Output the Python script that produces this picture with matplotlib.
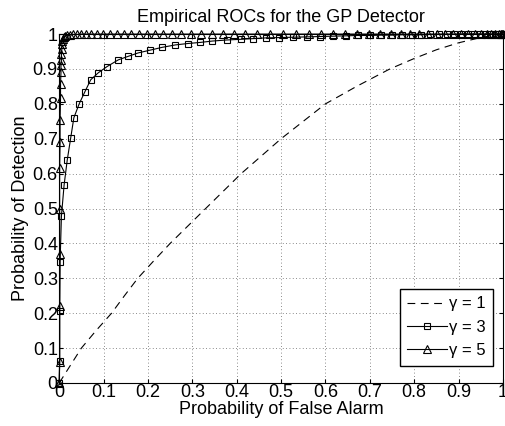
import matplotlib
matplotlib.use('Agg')
import matplotlib.pyplot as plt

plt.rcParams['font.family'] = ['Liberation Sans', 'DejaVu Sans']
plt.rcParams['font.size'] = 13

# gamma = 1 (dashed, no markers)
pfa_g1 = [0, 0.025, 0.05, 0.083, 0.118, 0.147, 0.177, 0.213, 0.25, 0.29, 0.33,
          0.37, 0.41, 0.455, 0.5, 0.55, 0.6, 0.67, 0.745, 0.8, 0.85, 0.9,
          0.95, 0.98, 1.0]
pd_g1 = [0, 0.05, 0.1, 0.15, 0.2, 0.25, 0.3, 0.35, 0.4, 0.45, 0.5, 0.55, 0.6,
         0.65, 0.7, 0.75, 0.8, 0.85, 0.9, 0.93, 0.955, 0.975, 0.99, 0.997, 1.0]

# gamma = 3 (squares)
pfa_g3 = [0, 0.001, 0.001, 0.002, 0.005, 0.011, 0.018, 0.026, 0.033, 0.045,
          0.058, 0.071, 0.088, 0.108, 0.133, 0.155, 0.178, 0.205, 0.232, 0.262,
          0.29, 0.317, 0.345, 0.377, 0.409, 0.436, 0.465, 0.496, 0.527, 0.558,
          0.588, 0.617, 0.646, 0.673, 0.7, 0.726, 0.75, 0.773, 0.795, 0.816,
          0.836, 0.855, 0.873, 0.89, 0.906, 0.921, 0.935, 0.948, 0.96, 0.971,
          0.981, 0.989, 0.995, 1.0]
pd_g3 = [0, 0.062, 0.207, 0.347, 0.478, 0.567, 0.638, 0.703, 0.76, 0.8,
         0.835, 0.869, 0.889, 0.907, 0.926, 0.936, 0.946, 0.954, 0.962, 0.969,
         0.973, 0.976, 0.98, 0.983, 0.985, 0.987, 0.989, 0.99, 0.991, 0.992,
         0.993, 0.994, 0.995, 0.996, 0.996, 0.997, 0.997, 0.998, 0.998, 0.998,
         0.999, 0.999, 0.999, 0.999, 1.0, 1.0, 1.0, 1.0, 1.0, 1.0,
         1.0, 1.0, 1.0, 1.0]

# gamma = 5 (triangles)
pfa_g5 = [0, 0.001, 0.001, 0.001, 0.001, 0.001, 0.002, 0.002, 0.003, 0.003,
          0.004, 0.004, 0.005, 0.005, 0.006, 0.006, 0.007, 0.008, 0.010,
          0.013, 0.017, 0.024, 0.031, 0.04, 0.049, 0.06, 0.071, 0.085, 0.098,
          0.114, 0.13, 0.146, 0.161, 0.18, 0.198, 0.216, 0.234, 0.254, 0.274,
          0.297, 0.319, 0.344, 0.369, 0.393, 0.418, 0.445, 0.475, 0.504,
          0.533, 0.562, 0.589, 0.617, 0.644, 0.67, 0.698, 0.723, 0.747, 0.77,
          0.79, 0.81, 0.83, 0.851, 0.869, 0.887, 0.905, 0.921, 0.936, 0.95,
          0.963, 0.974, 0.983, 0.99, 0.995, 0.998, 1.0]
pd_g5 = [0, 0.06, 0.22, 0.37, 0.5, 0.615, 0.69, 0.755, 0.817, 0.857,
         0.89, 0.91, 0.926, 0.943, 0.957, 0.971, 0.98, 0.987, 0.991,
         0.994, 0.996, 0.998, 0.999, 0.999, 1.0, 1.0, 1.0, 1.0, 1.0,
         1.0, 1.0, 1.0, 1.0, 1.0, 1.0, 1.0, 1.0, 1.0, 1.0,
         1.0, 1.0, 1.0, 1.0, 1.0, 1.0, 1.0, 1.0, 1.0,
         1.0, 1.0, 1.0, 1.0, 1.0, 1.0, 1.0, 1.0, 1.0, 1.0,
         1.0, 1.0, 1.0, 1.0, 1.0, 1.0, 1.0, 1.0, 1.0, 1.0,
         1.0, 1.0, 1.0, 1.0, 1.0, 1.0, 1.0]

labels = ['γ = 1', 'γ = 3', 'γ = 5']
ticks = [0, 0.1, 0.2, 0.3, 0.4, 0.5, 0.6, 0.7, 0.8, 0.9, 1]
tick_labels = ['0', '0.1', '0.2', '0.3', '0.4', '0.5', '0.6', '0.7', '0.8', '0.9', '1']

fig = plt.figure(figsize=(5.06, 4.26), dpi=100)
ax = fig.add_axes([0.117, 0.101, 0.877, 0.819])

ax.plot(pfa_g1, pd_g1, 'k--', lw=0.8, dashes=(7, 5), label=labels[0])
ax.plot(pfa_g3, pd_g3, 'k-', lw=0.8, marker='s', ms=5, mfc='none', mew=0.8,
        clip_on=False, label=labels[1])
ax.plot(pfa_g5, pd_g5, 'k-', lw=0.8, marker='^', ms=6, mfc='none', mew=0.8,
        clip_on=False, label=labels[2])

ax.set_xlim(0, 1)
ax.set_ylim(0, 1)
ax.set_xticks(ticks)
ax.set_xticklabels(tick_labels)
ax.set_yticks(ticks)
ax.set_yticklabels(tick_labels)
ax.tick_params(direction='in', top=True, right=True, length=3, pad=1,
               labelsize=13)
ax.grid(True, color='0.4', linestyle=(0, (1, 3)), linewidth=0.6)
for s in ax.spines.values():
    s.set_linewidth(0.8)

ax.set_title('Empirical ROCs for the GP Detector', fontsize=13, pad=9)
ax.set_xlabel('Probability of False Alarm', fontsize=13, labelpad=0)
ax.set_ylabel('Probability of Detection', fontsize=13, labelpad=3)

leg = ax.legend(loc='lower right', bbox_to_anchor=(0.978, 0.05),
                fancybox=False, framealpha=1, edgecolor='k',
                handlelength=2.4, handletextpad=0.1, borderpad=0.45,
                labelspacing=0.5, borderaxespad=0, fontsize=12)
leg.get_frame().set_linewidth(1.0)

fig.savefig('out.png', dpi=100)
